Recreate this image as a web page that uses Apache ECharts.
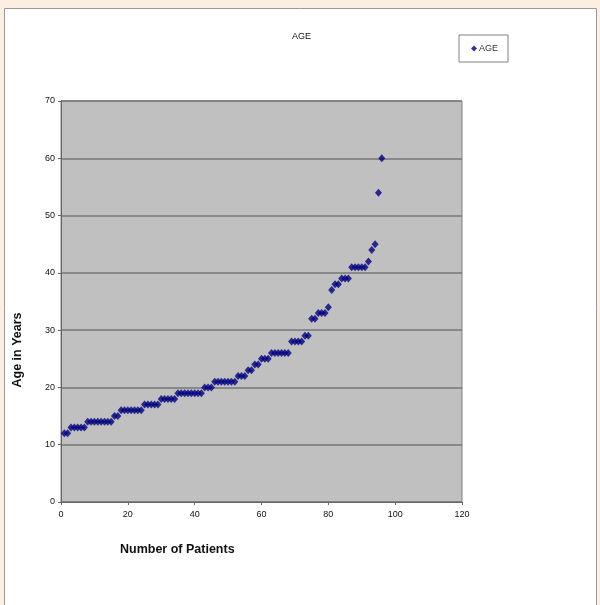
<!DOCTYPE html>
<html>
<head>
<meta charset="utf-8">
<script src="https://cdn.jsdelivr.net/npm/echarts@6/dist/echarts.min.js"></script>
<style>
html,body{margin:0;padding:0;background:#fdeee2;}
#c{width:600px;height:605px;}
</style>
</head>
<body>
<div id="c"></div>
<script>
const ageGroups = [12,13,14,15,16,17,18,19,20,21,22,23,24,25,26,28,29,32,33,34,37,38,39,41,42,44,45,54,60];
const groupCounts = [2,5,8,2,7,5,5,8,3,7,3,2,2,3,6,4,2,2,3,1,1,2,3,5,1,1,1,1,1];
const ages = [];
ageGroups.forEach((a, i) => { for (let k = 0; k < groupCounts[i]; k++) ages.push(a); });
const patients = ages.map((a, i) => i + 1);
const xTicks = [0,20,40,60,80,100,120];
const yTicks = [0,10,20,30,40,50,60,70];

const chart = echarts.init(document.getElementById('c'), null, {renderer:'canvas'});
chart.setOption({
  animation:false,
  backgroundColor:'transparent',
  graphic:[
    {type:'rect', z:-10, shape:{x:4.5,y:8.5,width:592,height:600}, style:{fill:'#ffffff', stroke:'#9a9a9a', lineWidth:1}},
    {type:'text', left:120, top:543, style:{text:'Number of Patients', font:'bold 12.5px "Liberation Sans", Arial', fill:'#111'}},
    {type:'text', x:18, y:350, rotation:Math.PI/2, style:{text:'Age in Years', font:'bold 12.5px "Liberation Sans", Arial', fill:'#111', textAlign:'center', textVerticalAlign:'middle'}}
  ],
  title:{text:'AGE', left:292, top:32, padding:0, textStyle:{fontSize:9, fontWeight:'normal', color:'#111', fontFamily:'"Liberation Sans", Arial'}},
  legend:{
    data:['AGE'], left:459, top:35, padding:[9,10,9,12],
    borderColor:'#808080', borderWidth:1, backgroundColor:'#fff',
    itemWidth:6, itemHeight:6, itemGap:2,
    textStyle:{fontSize:9, color:'#333', fontFamily:'"Liberation Sans", Arial', padding:[0,0,0,-3]}
  },
  grid:{left:61, top:101, width:401, height:401, show:true, backgroundColor:'#c0c0c0', borderColor:'#808080', borderWidth:1},
  xAxis:{
    type:'value', min:xTicks[0], max:xTicks[xTicks.length-1], interval:20,
    axisLine:{show:true, lineStyle:{color:'#666', width:1}},
    axisTick:{show:true, length:3, lineStyle:{color:'#666'}},
    splitLine:{show:false},
    axisLabel:{fontSize:9, color:'#111', margin:8, fontFamily:'"Liberation Sans", Arial'}
  },
  yAxis:{
    type:'value', min:yTicks[0], max:yTicks[yTicks.length-1], interval:10,
    axisLine:{show:true, lineStyle:{color:'#666', width:1}},
    axisTick:{show:true, length:3, lineStyle:{color:'#666'}},
    splitLine:{show:true, lineStyle:{color:'#777', width:1.5}},
    axisLabel:{fontSize:9, color:'#111', margin:6, fontFamily:'"Liberation Sans", Arial'}
  },
  series:[{
    name:'AGE', type:'scatter', symbol:'diamond', symbolSize:[7,8],
    itemStyle:{color:'#000080'},
    data: patients.map((p, i) => [p, ages[i]])
  }]
});
</script>
</body>
</html>
